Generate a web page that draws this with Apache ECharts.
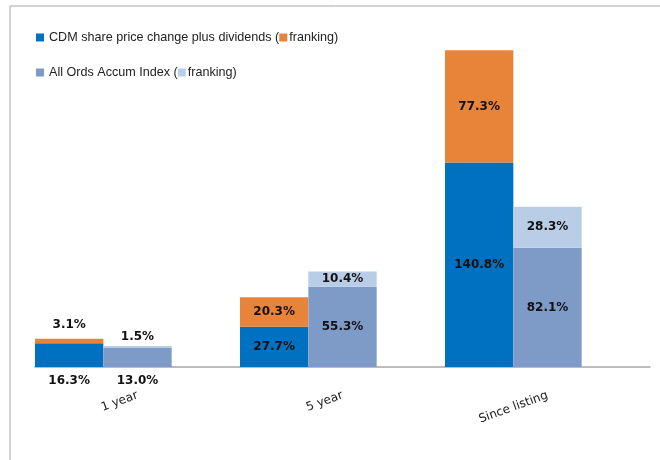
<!DOCTYPE html>
<html>
<head>
<meta charset="utf-8">
<script src="https://cdn.jsdelivr.net/npm/echarts@6/dist/echarts.min.js"></script>
<style>html,body{margin:0;padding:0;background:#fff}#c{width:660px;height:460px}</style>
</head>
<body>
<div id="c"></div>
<script>
var categories = ['1 year', '5 year', 'Since listing'];
var cdmName = 'CDM share price change plus dividends';
var ordsName = 'All Ords Accum Index';
var cdmBase = [16.3, 27.7, 140.8];
var cdmFranking = [3.1, 20.3, 77.3];
var ordsBase = [13.0, 55.3, 82.1];
var ordsFranking = [1.5, 10.4, 28.3];

var C_CDM = '#0070C0', C_CDMF = '#E8833A', C_ORD = '#7E9BC8', C_ORDF = '#BACDE6';
var labelFont = {fontFamily: 'DejaVu Sans', fontWeight: 'bold', fontSize: 12, color: '#111'};

function fmt(p) { return p.value.toFixed(1) + '%'; }
function items(arr, firstPos, firstDist) {
  return arr.map(function (v, i) {
    if (i === 0) return {value: v, label: {position: firstPos, distance: firstDist}};
    return v;
  });
}

var chart = echarts.init(document.getElementById('c'));
chart.setOption({
  animation: false,
  graphic: [{
    type: 'rect', silent: true,
    shape: {x: 10, y: 6, width: 700, height: 520},
    style: {fill: 'none', stroke: '#A6A6A6', lineWidth: 1}
  }],
  legend: {
    data: [cdmName, ordsName],
    orient: 'vertical',
    left: 36, top: 31,
    padding: 0,
    itemGap: 22,
    itemWidth: 8, itemHeight: 8,
    icon: 'rect',
    formatter: function (name) {
      return name + ' (' + (name === cdmName ? '{o| }' : '{b| }') + '{g| }franking)';
    },
    textStyle: {
      fontFamily: 'Liberation Sans', fontSize: 12.6, color: '#222',
      rich: {
        o: {width: 8, height: 8, backgroundColor: C_CDMF},
        b: {width: 8, height: 8, backgroundColor: C_ORDF},
        g: {width: 2}
      }
    }
  },
  grid: {left: 35, right: 10, top: 4, bottom: 93},
  xAxis: {
    type: 'category',
    data: categories,
    axisLine: {lineStyle: {color: '#A6A6A6', width: 1.5}},
    axisTick: {show: false},
    axisLabel: {rotate: 20, margin: 28, fontFamily: 'DejaVu Sans', fontSize: 12, color: '#222', interval: 0}
  },
  yAxis: {type: 'value', min: 0, max: 250, show: false, splitLine: {show: false}},
  series: [
    {name: cdmName, type: 'bar', stack: 'cdm', barCategoryGap: 0, barGap: 0,
     itemStyle: {color: C_CDM}, data: items(cdmBase, 'bottom', 8),
     label: Object.assign({show: true, position: 'inside', formatter: fmt}, labelFont)},
    {name: cdmName + ' franking', type: 'bar', stack: 'cdm',
     itemStyle: {color: C_CDMF}, data: items(cdmFranking, 'top', 8),
     label: Object.assign({show: true, position: 'inside', formatter: fmt}, labelFont)},
    {name: ordsName, type: 'bar', stack: 'ords',
     itemStyle: {color: C_ORD}, data: items(ordsBase, 'bottom', 8),
     label: Object.assign({show: true, position: 'inside', formatter: fmt}, labelFont)},
    {name: ordsName + ' franking', type: 'bar', stack: 'ords',
     itemStyle: {color: C_ORDF}, data: items(ordsFranking, 'top', 3),
     label: Object.assign({show: true, position: 'inside', formatter: fmt}, labelFont)},
    {name: 'spacer', type: 'bar', stack: 'spacer', data: ['-', '-', '-'], itemStyle: {color: 'transparent'}}
  ]
});
</script>
</body>
</html>
